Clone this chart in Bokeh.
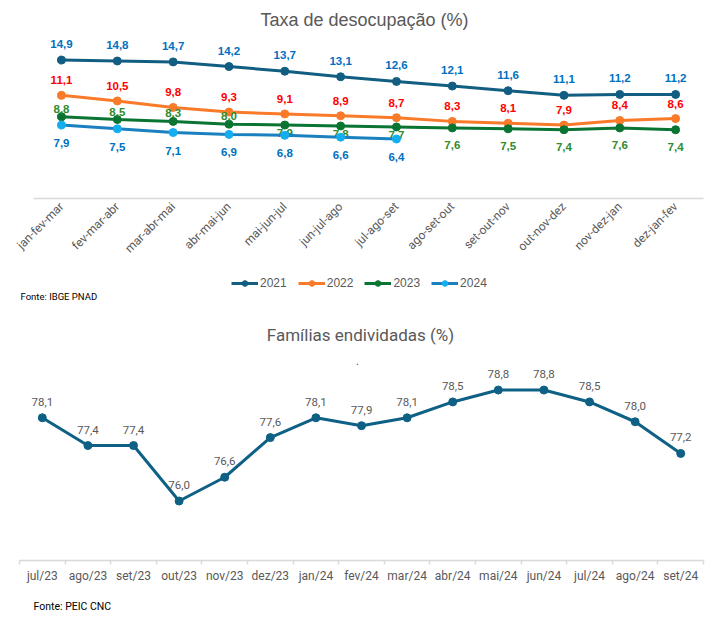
from bokeh.plotting import figure
from bokeh.models import (ColumnDataSource, Label, Legend, LegendItem, Range1d,
                          FixedTicker)
from bokeh.layouts import column
from bokeh.embed import file_html
from bokeh.resources import INLINE
from bokeh.core.properties import value
import math

# ---------------- data ----------------
trimestres = ["jan-fev-mar", "fev-mar-abr", "mar-abr-mai", "abr-mai-jun", "mai-jun-jul",
              "jun-jul-ago", "jul-ago-set", "ago-set-out", "set-out-nov", "out-nov-dez",
              "nov-dez-jan", "dez-jan-fev"]
taxa_2021 = [14.9, 14.8, 14.7, 14.2, 13.7, 13.1, 12.6, 12.1, 11.6, 11.1, 11.2, 11.2]
taxa_2022 = [11.1, 10.5, 9.8, 9.3, 9.1, 8.9, 8.7, 8.3, 8.1, 7.9, 8.4, 8.6]
taxa_2023 = [8.8, 8.5, 8.3, 8.0, 7.9, 7.8, 7.7, 7.6, 7.5, 7.4, 7.6, 7.4]
taxa_2024 = [7.9, 7.5, 7.1, 6.9, 6.8, 6.6, 6.4]
anos = ["2021", "2022", "2023", "2024"]

meses = ["jul/23", "ago/23", "set/23", "out/23", "nov/23", "dez/23", "jan/24", "fev/24",
         "mar/24", "abr/24", "mai/24", "jun/24", "jul/24", "ago/24", "set/24"]
endividadas = [78.1, 77.4, 77.4, 76.0, 76.6, 77.6, 78.1, 77.9, 78.1, 78.5, 78.8, 78.8,
               78.5, 78.0, 77.2]

GRAY = "#595959"
AXIS = "#D9D9D9"
COND = "Roboto"
SANS = "Liberation Sans"


def fmt(v):
    return f"{v:.1f}".replace(".", ",")


def base_fig(xr, yr):
    p = figure(x_range=xr, y_range=yr, frame_width=710, frame_height=308,
               min_border=0, title=None, y_axis_location=None,
               output_backend="svg", toolbar_location=None)
    p.outline_line_color = None
    p.xgrid.grid_line_color = None
    p.ygrid.grid_line_color = None
    p.xaxis.axis_line_color = AXIS
    p.xaxis.axis_line_width = 1.5
    p.xaxis.major_tick_line_color = None
    p.xaxis.major_tick_out = 0
    p.xaxis.major_tick_in = 0
    p.xaxis.major_label_text_color = GRAY
    p.xaxis.major_label_text_font = COND
    return p


# ---------------- top chart ----------------
n1 = len(trimestres)
xs1 = [i + 0.5 for i in range(n1)]
p1 = base_fig(Range1d(-0.5926, 12.125), Range1d(-11.84, 21.31))
p1.xaxis.fixed_location = 0
p1.xaxis.bounds = (0, n1)
p1.xaxis.ticker = FixedTicker(ticks=xs1)
p1.xaxis.major_label_overrides = {x: t for x, t in zip(xs1, trimestres)}
p1.xaxis.minor_tick_line_color = None
p1.xaxis.major_label_orientation = math.pi / 4
p1.xaxis.major_label_standoff = 6
p1.xaxis.major_label_text_font_size = "12px"

series = [
    (taxa_2021, "#125E82", "#125E82", "#0070C0", lambda i: -16),
    (taxa_2022, "#F97A29", "#F97A29", "#FF0000", lambda i: -15),
    (taxa_2023, "#0A7432", "#0A7432", "#2E8B2E", lambda i: -8 if i < 4 else (8 if i < 7 else 17)),
    (taxa_2024, "#1A80C0", "#14AEEF", "#0070C0", lambda i: 18),
]
items = []
for (vals, lc, mc, tc, off), ano in zip(series, anos):
    src = ColumnDataSource(dict(x=xs1[:len(vals)], y=vals,
                                t=[fmt(v) for v in vals],
                                off=[off(i) for i in range(len(vals))]))
    r_line = p1.line("x", "y", source=src, line_color=lc, line_width=3)
    r_pt = p1.scatter("x", "y", source=src, size=8, fill_color=mc, line_color=mc)
    p1.text("x", "y", text="t", source=src, y_offset="off", text_color=tc,
            text_font=value(SANS), text_font_style="bold", text_font_size="11.5px",
            text_align="center", text_baseline="middle")
    items.append(LegendItem(label=ano, renderers=[r_line, r_pt]))

legend = Legend(items=items, orientation="horizontal", location=(231, 18),
                background_fill_alpha=0, border_line_color=None, padding=0,
                spacing=11, glyph_width=27, glyph_height=14, label_standoff=2,
                label_height=14, label_text_font=SANS, label_text_font_size="12px",
                label_text_color=GRAY, margin=0)
p1.add_layout(legend, "center")

p1.add_layout(Label(x=5.927, y=19.16, text="Taxa de desocupação (%)", text_align="center",
                    text_baseline="middle", text_color=GRAY, text_font=SANS,
                    text_font_size="18px"))
p1.add_layout(Label(x=-0.234, y=-10.55, text="Fonte: IBGE PNAD", text_align="left",
                    text_baseline="middle", text_color="#000000", text_font=COND,
                    text_font_size="9.5px"))

# ---------------- bottom chart ----------------
n2 = len(meses)
xs2 = [i + 0.5 for i in range(n2)]
p2 = base_fig(Range1d(-0.4167, 15.153), Range1d(73.087, 80.857))
p2.xaxis.fixed_location = 74.5
p2.xaxis.bounds = (0, n2)
p2.xaxis.ticker = FixedTicker(ticks=xs2, minor_ticks=list(range(n2 + 1)))
p2.xaxis.major_label_overrides = {x: m for x, m in zip(xs2, meses)}
p2.xaxis.minor_tick_line_color = AXIS
p2.xaxis.minor_tick_line_width = 1.5
p2.xaxis.minor_tick_out = 4
p2.xaxis.minor_tick_in = 0
p2.xaxis.major_label_standoff = 5
p2.xaxis.major_label_text_font_size = "12px"

src2 = ColumnDataSource(dict(x=xs2, y=endividadas, t=[fmt(v) for v in endividadas]))
p2.line("x", "y", source=src2, line_color="#0E6185", line_width=3)
p2.scatter("x", "y", source=src2, size=8, fill_color="#0E6185", line_color="#0E6185")
p2.text("x", "y", text="t", source=src2, y_offset=-16, text_color=GRAY,
        text_font=value(COND), text_font_size="11.5px", text_align="center",
        text_baseline="middle")

p2.add_layout(Label(x=7.478, y=80.2, text="Famílias endividadas (%)", text_align="center",
                    text_baseline="middle", text_color=GRAY, text_font=COND,
                    text_font_size="17px"))
p2.add_layout(Label(x=7.41, y=79.42, text=".", text_align="center",
                    text_baseline="bottom", text_color="#333333", text_font=SANS,
                    text_font_size="10px"))
p2.add_layout(Label(x=0.307, y=73.34, text="Fonte: PEIC CNC", text_align="left",
                    text_baseline="middle", text_color="#000000", text_font=COND,
                    text_font_size="10.5px"))

layout = column(p1, p2, spacing=0)
open("out.html", "w").write(file_html(layout, INLINE))
